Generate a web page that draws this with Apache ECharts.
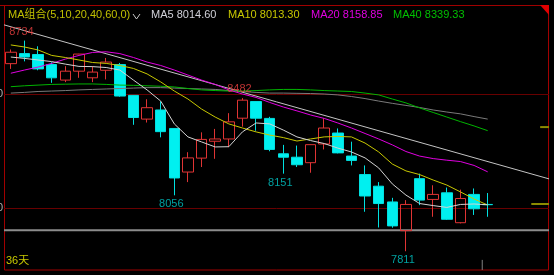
<!DOCTYPE html>
<html><head><meta charset="utf-8">
<script src="https://cdn.jsdelivr.net/npm/echarts@6/dist/echarts.min.js"></script>
<style>html,body{margin:0;padding:0;background:#000;}#c{width:554px;height:275px;}</style>
</head><body><div id="c"></div>
<script>
// ---- data ----
const categories = ['1','2','3','4','5','6','7','8','9','10','11','12','13','14','15','16','17','18','19','20','21','22','23','24','25','26','27','28','29','30','31','32','33','34','35','36'];
const emptySlots = ['e1','e2','e3','e4'];
const opens  = [8633,8677,8673,8629,8561,8600,8571,8604,8629,8494,8390,8430,8349,8158,8219,8293,8303,8394,8467,8393,8238,8223,8199,8281,8329,8228,8147,8096,8027,7901,8129,8038,8067,7936,8060,8016];
const closes = [8683,8662,8610,8571,8600,8675,8596,8640,8491,8397,8440,8335,8132,8220,8301,8303,8378,8473,8394,8257,8223,8190,8278,8351,8242,8209,8053,8020,7922,8016,8035,8060,7951,8042,7997,8015];
const lows   = [8610,8643,8604,8549,8552,8571,8552,8564,8488,8365,8375,8310,8056,8114,8180,8216,8267,8357,8339,8249,8151,8180,8155,8257,8240,8187,7984,7915,7914,7811,8013,7962,7948,7933,7970,7962];
const highs  = [8695,8734,8709,8639,8622,8676,8622,8658,8636,8495,8477,8467,8350,8245,8332,8347,8416,8482,8468,8400,8277,8274,8279,8394,8349,8291,8187,8114,8045,8035,8151,8100,8090,8081,8086,8066];
const ma5  = [8662,8656,8649,8642,8631,8621,8620,8616,8605,8561,8518,8469,8369,8312,8290,8268,8269,8334,8373,8369,8342,8312,8296,8283,8263,8246,8220,8176,8106,8057,8020,8011,8003,8016,8018,8014.60];
const ma10 = [8715,8706,8693,8669,8660,8649,8638,8634,8625,8612,8588,8553,8513,8478,8434,8399,8369,8351,8334,8320,8309,8294,8303,8312,8314,8312,8285,8246,8193,8163,8147,8123,8101,8071,8040,8013.30];
const ma20 = [8591,8605,8618,8634,8653,8669,8682,8685,8677,8660,8640,8625,8605,8583,8561,8542,8518,8500,8485,8463,8443,8426,8408,8393,8373,8351,8327,8303,8277,8248,8228,8217,8210,8204,8187,8158.85];
const ma40 = [8532,8536,8539,8542,8543,8544,8544,8542,8539,8538,8536,8534,8531,8524,8518,8515,8513,8513,8515,8518,8520,8520,8518,8515,8513,8511,8504,8496,8478,8461,8439,8419,8399,8379,8360,8339.33];
const ma60 = [8504,8507,8511,8513,8515,8518,8520,8522,8524,8526,8528,8528,8526,8524,8522,8520,8515,8511,8507,8504,8504,8503,8502,8500,8496,8489,8480,8469,8459,8450,8441,8430,8421,8413,8401,8390];
const maParams = '(5,10,20,40,60,0)';
const extremeIdx  = [1, 17, 12, 20, 29];
const extremeVal  = [8734, 8482, 8056, 8151, 7811];
const extremeSide = ['top','top','bottom','bottom','bottom'];
const trendLine = [[-0.5, 8803], [39.5, 8128]];
const baseLevel = 7903;
const sideMarks = [[38.85, 8355], [38.2, 8018]];
const cursorTick = [[34.6, 7773], [34.6, 7729]];
const yTicks = [7500, 9000, 500];

// ---- chart ----
const FONT = '"Liberation Sans", "Noto Sans CJK SC", sans-serif';
const chart = echarts.init(document.getElementById('c'));
const candleData = opens.map((o,i)=>[o, closes[i], lows[i], highs[i]]);
const last = a => a[a.length-1].toFixed(2);
const lineSeries = (name, data, color) => ({
  name, type:'line', data, xAxisIndex:0, yAxisIndex:0, showSymbol:false, symbol:'none',
  lineStyle:{color, width:1}, silent:true, z:3
});
const segSeries = (data, color, width) => ({
  type:'line', data, xAxisIndex:1, yAxisIndex:0, showSymbol:false, symbol:'none',
  lineStyle:{color, width}, silent:true, z:2
});

const option = {
  backgroundColor:'#000',
  animation:false,
  grid:{left:4, width:545, top:-20.1, height:342.3, containLabel:false, outerBoundsMode:'none'},
  xAxis:[
    {type:'category', data:categories.concat(emptySlots), boundaryGap:true, show:false},
    {type:'value', min:-0.5, max:39.5, show:false}
  ],
  yAxis:{
    type:'value', min:yTicks[0], max:yTicks[1], interval:yTicks[2],
    axisLine:{show:false}, axisTick:{show:false},
    axisLabel:{color:'#b0b0b0', fontSize:11, margin:1, fontFamily:FONT, formatter:v=>String(v)},
    splitLine:{lineStyle:{color:'#680000', width:1}}
  },
  series:[
    segSeries([[-0.5, baseLevel],[39.5, baseLevel]], '#8c8c8c', 2),
    segSeries(cursorTick, '#808080', 1),
    {
      type:'candlestick', data:candleData, barWidth:11, z:2,
      itemStyle:{color:'transparent', color0:'#00f0f0', borderColor:'#e03434', borderColor0:'#00e0e0', borderWidth:1}
    },
    lineSeries('MA60', ma60, '#7a7a7a'),
    lineSeries('MA40', ma40, '#00b400'),
    lineSeries('MA20', ma20, '#e000e0'),
    lineSeries('MA10', ma10, '#c8c800'),
    lineSeries('MA5', ma5, '#d4d4d4'),
    segSeries(trendLine, '#c4c4c4', 1),
    segSeries([sideMarks[0], [39.5, sideMarks[0][1]]], '#8c8c00', 2),
    segSeries([sideMarks[1], [39.5, sideMarks[1][1]]], '#8c8c00', 2),
    {
      type:'scatter', symbolSize:1, itemStyle:{color:'transparent'}, z:5,
      data: extremeIdx.map((idx,k)=>({
        value:[idx, extremeVal[k]],
        label:{show:true, position:extremeSide[k], distance:3, offset:[-3,0],
          formatter:String(extremeVal[k]), fontSize:11, fontFamily:FONT,
          color: extremeSide[k]==='top' ? '#ec4040' : '#00c8c8'}
      }))
    }
  ],
  graphic:[
    {type:'line', shape:{x1:0, y1:5.5, x2:549, y2:5.5}, style:{stroke:'#a00000', lineWidth:1}, silent:true},
    {type:'rect', shape:{x:4.5, y:5.5, width:544, height:264.5}, style:{fill:'none', stroke:'#a00000', lineWidth:1}, silent:true},
    {type:'polygon', shape:{points:[[540,5],[549,5],[549,15]]}, style:{fill:'#e00000'}, silent:true},
    {type:'text', x:8, y:15, style:{text:'MA组合'+maParams, fill:'#c0c000', font:'11px '+FONT, verticalAlign:'middle'}},
    {type:'polyline', shape:{points:[[133,14],[136.5,19],[140,14]]}, style:{stroke:'#c8c8c8', lineWidth:1, fill:'none'}},
    {type:'text', x:151, y:15, style:{text:'MA5 '+last(ma5), fill:'#d0d0d8', font:'11px '+FONT, verticalAlign:'middle'}},
    {type:'text', x:228, y:15, style:{text:'MA10 '+last(ma10), fill:'#c8c800', font:'11px '+FONT, verticalAlign:'middle'}},
    {type:'text', x:311, y:15, style:{text:'MA20 '+last(ma20), fill:'#e000e0', font:'11px '+FONT, verticalAlign:'middle'}},
    {type:'text', x:393, y:15, style:{text:'MA40 '+last(ma40), fill:'#00c000', font:'11px '+FONT, verticalAlign:'middle'}},
    {type:'text', x:6, y:261, style:{text:categories.length+'天', fill:'#c8c800', font:'11px '+FONT, verticalAlign:'middle'}}
  ]
};
chart.setOption(option);
</script></body></html>
